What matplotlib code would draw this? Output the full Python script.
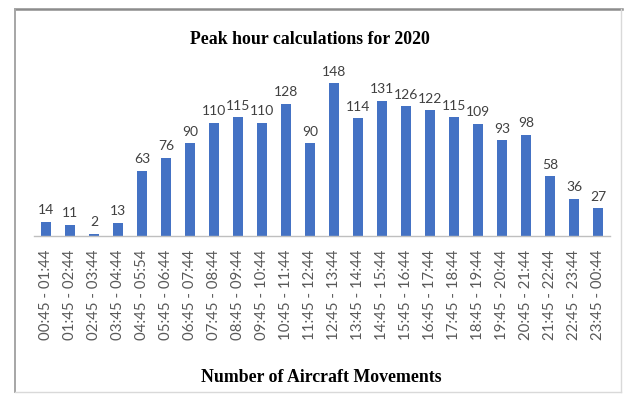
import matplotlib
matplotlib.use("Agg")
import matplotlib.pyplot as plt
from matplotlib.lines import Line2D

# Hourly windows and aircraft movement counts
slots = [
    "00:45 - 01:44", "01:45 - 02:44", "02:45 - 03:44", "03:45 - 04:44",
    "04:45 - 05:54", "05:45 - 06:44", "06:45 - 07:44", "07:45 - 08:44",
    "08:45 - 09:44", "09:45 - 10:44", "10:45 - 11:44", "11:45 - 12:44",
    "12:45 - 13:44", "13:45 - 14:44", "14:45 - 15:44", "15:45 - 16:44",
    "16:45 - 17:44", "17:45 - 18:44", "18:45 - 19:44", "19:45 - 20:44",
    "20:45 - 21:44", "21:45 - 22:44", "22:45 - 23:44", "23:45 - 00:44",
]
movements = [14, 11, 2, 13, 63, 76, 90, 110, 115, 110, 128, 90,
             148, 114, 131, 126, 122, 115, 109, 93, 98, 58, 36, 27]

W, H = 630, 396
fig = plt.figure(figsize=(W / 100, H / 100), dpi=100)
fig.patch.set_facecolor("white")

# Outer chart border
def fx(px):
    return px / W

def fy(py):
    return 1 - py / H

fig.add_artist(Line2D([fx(15), fx(622)], [fy(9), fy(9)], color="#8c8c8c", lw=1.8))
fig.add_artist(Line2D([fx(15), fx(15)], [fy(9), fy(392)], color="#a6a6a6", lw=1.4))
fig.add_artist(Line2D([fx(621), fx(621)], [fy(9), fy(392)], color="#d9d9d9", lw=1.0))
fig.add_artist(Line2D([fx(15), fx(621)], [fy(392), fy(392)], color="#d9d9d9", lw=1.0))

ax = fig.add_axes([fx(34), fy(236), fx(610) - fx(34), fy(71) - fy(236)])
x = list(range(len(slots)))
bars = ax.bar(x, movements, width=0.42, color="#4472C4")

ax.set_xlim(-0.5, len(slots) - 0.5)
ax.set_ylim(0, 160)
for s in ["top", "right", "left"]:
    ax.spines[s].set_visible(False)
ax.spines["bottom"].set_color("#bfbfbf")
ax.spines["bottom"].set_linewidth(1.0)
ax.set_yticks([])
ax.set_xticks(x)
ax.set_xticklabels(slots, rotation=90, fontsize=10.8, family="Lato",
                   color="#595959")
ax.tick_params(axis="x", length=0, pad=10)

for xi, v in zip(x, movements):
    ax.annotate(str(v), (xi, v), xytext=(0, 4), textcoords="offset points",
                ha="center", va="bottom", fontsize=10, family="Lato",
                color="#404040")

fig.text(fx(310), fy(40), "Peak hour calculations for 2020", ha="center",
         va="center", fontsize=12.8, fontweight="bold", family="Liberation Serif")
fig.text(fx(321), fy(377), "Number of Aircraft Movements", ha="center",
         va="center", fontsize=12.8, fontweight="bold", family="Liberation Serif")

fig.savefig("out.png", dpi=100)
